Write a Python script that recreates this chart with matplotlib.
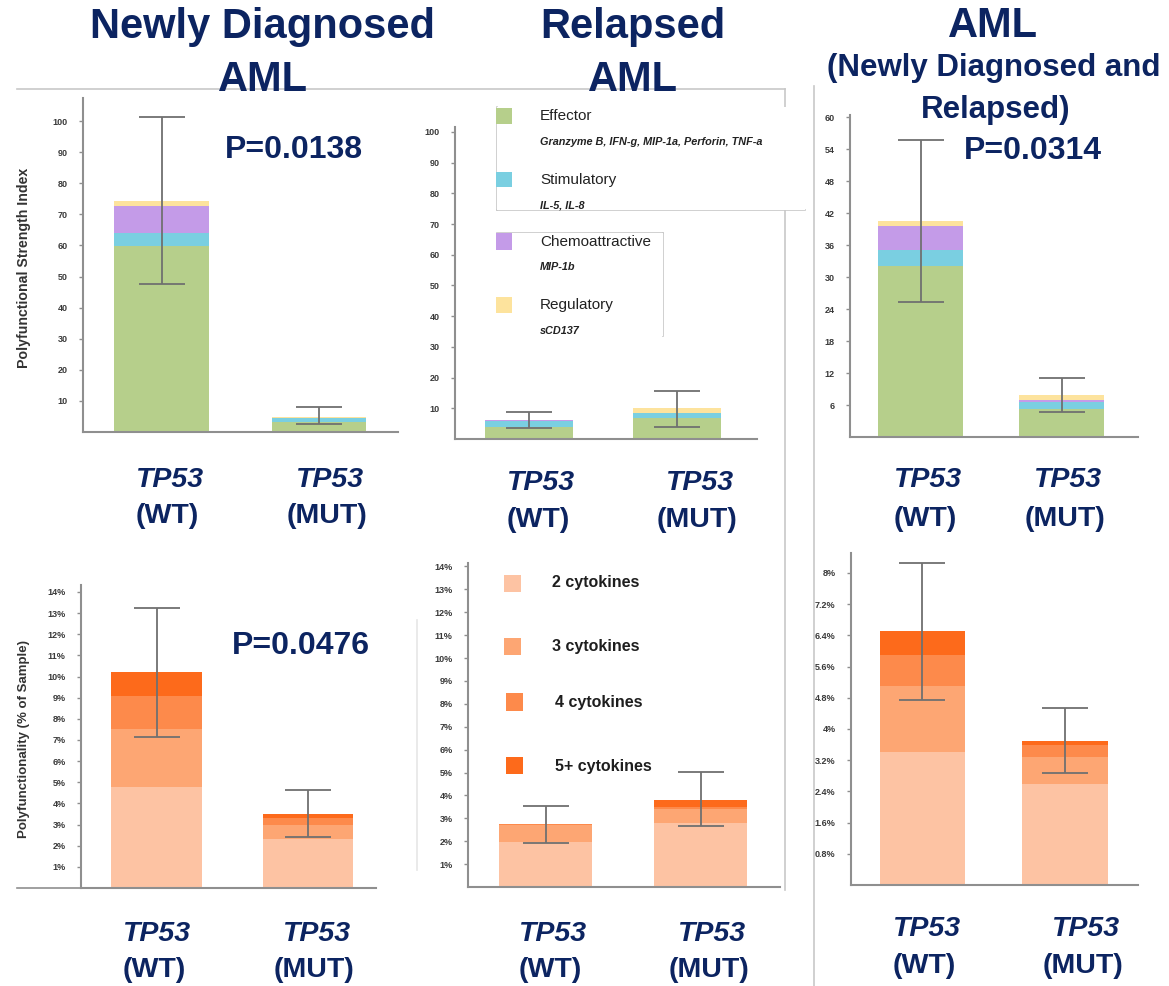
import matplotlib

matplotlib.use("Agg")
import matplotlib.pyplot as plt
import numpy as np
from matplotlib.lines import Line2D
from matplotlib.patches import Rectangle

# ---- data ----
groups = ["WT", "MUT"]

psi_categories = ["Effector", "Stimulatory", "Chemoattractive", "Regulatory"]
psi_details = ["Granzyme B, IFN-g, MIP-1a, Perforin, TNF-a", "IL-5, IL-8", "MIP-1b", "sCD137"]
psi_colors = ["#b6cf8b", "#7acfe1", "#c49be8", "#fde39d"]

cyto_categories = ["2 cytokines", "3 cytokines", "4 cytokines", "5+ cytokines"]
cyto_colors = ["#fdc3a3", "#fda673", "#fd8a4b", "#fd6a1b"]

# Polyfunctional strength index, segment heights per category (WT, MUT)
newly_psi = [[59.8, 3.2], [4.2, 1.2], [8.7, 0.2], [1.7, 0.2]]
newly_psi_lo = [47.6, 2.5]
newly_psi_hi = [101.3, 8.0]

relapsed_psi = [[3.9, 6.7], [2.1, 1.9], [0.2, 0.0], [0.1, 1.4]]
relapsed_psi_lo = [3.5, 4.0]
relapsed_psi_hi = [8.9, 15.6]

combined_psi = [[32.1, 5.2], [3.0, 1.4], [4.5, 0.3], [0.9, 0.9]]
combined_psi_lo = [25.4, 4.6]
combined_psi_hi = [55.7, 11.1]

# Polyfunctionality (% of sample)
newly_poly = [[4.8, 2.3], [2.7, 0.7], [1.6, 0.3], [1.1, 0.2]]
newly_poly_lo = [7.15, 2.4]
newly_poly_hi = [13.25, 4.63]

relapsed_poly = [[1.95, 2.8], [0.75, 0.6], [0.05, 0.1], [0.02, 0.3]]
relapsed_poly_lo = [1.9, 2.65]
relapsed_poly_hi = [3.55, 5.03]

combined_poly = [[3.4, 2.6], [1.7, 0.67], [0.8, 0.33], [0.6, 0.08]]
combined_poly_lo = [4.74, 2.86]
combined_poly_hi = [8.25, 4.53]

psi_ticks_100 = [10, 20, 30, 40, 50, 60, 70, 80, 90, 100]
psi_ticks_60 = [6, 12, 18, 24, 30, 36, 42, 48, 54, 60]
poly_ticks_14 = [1, 2, 3, 4, 5, 6, 7, 8, 9, 10, 11, 12, 13, 14]
poly_ticks_8 = [0.8, 1.6, 2.4, 3.2, 4.0, 4.8, 5.6, 6.4, 7.2, 8.0]

titles = ["Newly Diagnosed\nAML", "Relapsed\nAML", "AML"]
p_values = ["P=0.0138", "P=0.0476", "P=0.0314"]

# ---- figure ----
W, H = 1169, 986
NAVY = "#0c2461"
GRAY = "#8f8f8f"
plt.rcParams["font.family"] = ["Liberation Sans", "DejaVu Sans"]

fig = plt.figure(figsize=(W / 100, H / 100), dpi=100)


def fx(x):
    return x / W


def fy(y):
    return 1 - y / H


def ftext(x, y, s, **kw):
    kw.setdefault("ha", "center")
    kw.setdefault("va", "center")
    fig.text(fx(x), fy(y), s, **kw)


def fline(xs, ys, color="#c8c8c8", lw=1.2):
    fig.add_artist(Line2D([fx(v) for v in xs], [fy(v) for v in ys], color=color, lw=lw))


# screenshot frame lines
fline([17, 785], [89, 89])
fline([785, 785], [89, 107])
fline([785, 785], [210, 890])
fline([814, 814], [86, 986])
fline([417, 417], [620, 870], color="#e6e6e6")


def panel(box, xmax, segs, colors, lo, hi, ymax, ticks, fmt):
    left, top, right, bottom = box
    ax = fig.add_axes([fx(left), fy(bottom), fx(right) - fx(left), (bottom - top) / H])
    x = np.arange(len(groups))
    base = np.zeros(len(groups))
    for seg, c in zip(segs, colors):
        ax.bar(x, seg, 0.6, bottom=base, color=c, linewidth=0, zorder=2)
        base += np.array(seg)
    lo = np.array(lo)
    hi = np.array(hi)
    ax.errorbar(x, (lo + hi) / 2, yerr=(hi - lo) / 2, fmt="none", ecolor="#707070",
                elinewidth=1.3, capsize=16.5, capthick=1.3, zorder=3)
    ax.set_xlim(-0.5, xmax)
    ax.set_ylim(0, ymax)
    ax.set_xticks([])
    ax.set_yticks(ticks)
    ax.set_yticklabels([fmt(t) for t in ticks], fontsize=6.5, fontweight="bold", color="#3a3a3a")
    ax.tick_params(axis="y", length=3, width=1, color=GRAY, pad=8)
    for s in ["top", "right"]:
        ax.spines[s].set_visible(False)
    for s in ["left", "bottom"]:
        ax.spines[s].set_color(GRAY)
        ax.spines[s].set_linewidth(1.5)
    ax.patch.set_alpha(0)
    return ax


def fmt_int(v):
    return f"{v:g}"


def fmt_pct(v):
    return f"{v:g}%"


panel((83, 98, 398, 432), 1.503, newly_psi, psi_colors, newly_psi_lo, newly_psi_hi, 107.4, psi_ticks_100, fmt_int)
panel((455, 127, 757, 439), 1.54, relapsed_psi, psi_colors, relapsed_psi_lo, relapsed_psi_hi, 101.6, psi_ticks_100, fmt_int)
panel((850, 115, 1138, 437), 1.54, combined_psi, psi_colors, combined_psi_lo, combined_psi_hi, 60.4, psi_ticks_60, fmt_int)
panel((81, 585, 376, 888), 1.45, newly_poly, cyto_colors, newly_poly_lo, newly_poly_hi, 14.33, poly_ticks_14, fmt_pct)
panel((468, 563, 780, 887), 1.51, relapsed_poly, cyto_colors, relapsed_poly_lo, relapsed_poly_hi, 14.15, poly_ticks_14, fmt_pct)
panel((851, 553, 1138, 885), 1.51, combined_poly, cyto_colors, combined_poly_lo, combined_poly_hi, 8.51, poly_ticks_8, fmt_pct)

fline([17, 81], [888, 888], color=GRAY, lw=1.2)

# titles
t1, t2 = titles[0].split("\n")
ftext(263, 27, t1, fontsize=30, fontweight="bold", color=NAVY)
ftext(263, 80, t2, fontsize=30, fontweight="bold", color=NAVY)
t1, t2 = titles[1].split("\n")
ftext(633, 27, t1, fontsize=30, fontweight="bold", color=NAVY)
ftext(633, 80, t2, fontsize=30, fontweight="bold", color=NAVY)
ftext(993, 26, titles[2], fontsize=30, fontweight="bold", color=NAVY)
ftext(994, 68, "(Newly Diagnosed and", fontsize=22.5, fontweight="bold", color=NAVY)
ftext(996, 110, "Relapsed)", fontsize=22.5, fontweight="bold", color=NAVY)

# p-values
ftext(294, 150, p_values[0], fontsize=23, fontweight="bold", color=NAVY)
ftext(301, 646, p_values[1], fontsize=23, fontweight="bold", color=NAVY)
ftext(1033, 151, p_values[2], fontsize=23, fontweight="bold", color=NAVY)

# y labels
ftext(24, 268, "Polyfunctional Strength Index", fontsize=10.2, fontweight="bold", color="#333333", rotation=90)
ftext(24, 739, "Polyfunctionality (% of Sample)", fontsize=9.5, fontweight="bold", color="#333333", rotation=90)

# group labels under each panel: (x WT, x MUT, y TP53, y group)
label_pos = [
    (170, 330, 480, 516),
    (541, 700, 483, 520),
    (928, 1068, 480, 519),
    (157, 317, 934, 970),
    (553, 712, 934, 970),
    (927, 1086, 929, 966),
]
for xw, xm, y1, y2 in label_pos:
    for xc, g in zip((xw, xm), groups):
        ftext(xc, y1, "TP53", fontsize=20.5, fontweight="bold", style="italic", color=NAVY)
        ftext(xc - 3, y2, f"({g})", fontsize=20.5, fontweight="bold", color=NAVY)

# legend: PSI categories (top middle)
fig.add_artist(Rectangle((fx(497), fy(210)), fx(805) - fx(497), (210 - 107) / H,
                         facecolor="white", edgecolor="none", zorder=4))
fig.add_artist(Rectangle((fx(497), fy(336)), fx(663) - fx(497), (336 - 233) / H,
                         facecolor="white", edgecolor="none", zorder=4))
fline([497, 497], [107, 210])
fline([497, 805], [210, 210])
fline([497, 663], [233, 233])
fline([663, 663], [233, 336])
psi_leg_y = [(108, 124, 116, 142), (172, 187, 180, 206), (233, 250, 242, 267), (297, 313, 305, 331)]
for (ya, yb, yt, yd), name, det, c in zip(psi_leg_y, psi_categories, psi_details, psi_colors):
    fig.add_artist(Rectangle((fx(496), fy(yb)), fx(512) - fx(496), (yb - ya) / H,
                             facecolor=c, edgecolor="none", zorder=5))
    fig.text(fx(540), fy(yt), name, fontsize=11, color="#222222", ha="left", va="center", zorder=5)
    fig.text(fx(540), fy(yd), det, fontsize=7.8, fontweight="bold", style="italic",
             color="#222222", ha="left", va="center", zorder=5)

# legend: cytokine counts (bottom middle)
cyto_leg = [(504, 575, 592, 552, 583), (504, 638, 655, 552, 647),
            (506, 693, 711, 555, 702), (506, 757, 774, 555, 766)]
for (xa, ya, yb, xt, yt), name, c in zip(cyto_leg, cyto_categories, cyto_colors):
    fig.add_artist(Rectangle((fx(xa), fy(yb)), 17 / W, (yb - ya) / H,
                             facecolor=c, edgecolor="none", zorder=5))
    fig.text(fx(xt), fy(yt), name, fontsize=11.5, fontweight="bold", color="#1e1e1e",
             ha="left", va="center", zorder=5)

fig.savefig("out.png", dpi=100)
